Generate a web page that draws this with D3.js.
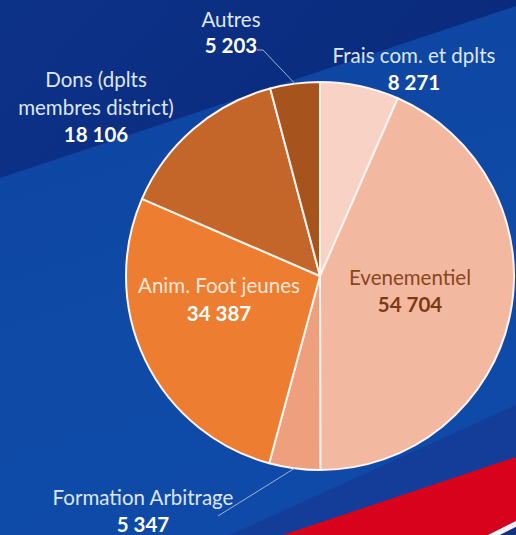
<!DOCTYPE html>
<html><head><meta charset="utf-8">
<script src="https://cdn.jsdelivr.net/npm/d3@7"></script>
<style>html,body{margin:0;padding:0;background:#0e47a1;}svg{display:block;}</style>
</head><body>
<svg id="c" width="516" height="535"></svg>
<script>
const categories = ["Frais com. et dplts", "Evenementiel", "Formation Arbitrage", "Anim. Foot jeunes", "Dons (dplts membres district)", "Autres"];
const values = [8271, 54704, 5347, 34387, 18106, 5203];
const valueLabels = ["8 271", "54 704", "5 347", "34 387", "18 106", "5 203"];
const colors = ["#f7d2c5", "#f3b9a0", "#ee9f7d", "#ed7d31", "#c4662a", "#a6531e"];

const W = 516, H = 535;
const svg = d3.select("#c");
const defs = svg.append("defs");
const g1 = defs.append("linearGradient").attr("id","bg").attr("x1","0").attr("y1","0").attr("x2","0.3").attr("y2","1");
g1.append("stop").attr("offset","0").attr("stop-color","#0f42a0");
g1.append("stop").attr("offset","0.6").attr("stop-color","#0e4aa6");
g1.append("stop").attr("offset","1").attr("stop-color","#0f4aa8");
svg.append("rect").attr("width",W).attr("height",H).attr("fill","url(#bg)");
const g2 = defs.append("linearGradient").attr("id","top").attr("x1","0").attr("y1","0").attr("x2","1").attr("y2","0.3");
g2.append("stop").attr("offset","0").attr("stop-color","#0c3288");
g2.append("stop").attr("offset","1").attr("stop-color","#0a2a7c");
svg.append("path").attr("d","M0,0 L516,0 L516,6 L0,178 Z").attr("fill","url(#top)");
// lower right bands
svg.append("path").attr("d","M230,535 L516,405 L516,457 L283,535 Z").attr("fill","#17348f").attr("opacity",0.6);
svg.append("path").attr("d","M283,535 L516,457 L516,521 L488,535 Z").attr("fill","#d9021d");
svg.append("path").attr("d","M488,535 L516,521 L516,527 L500,535 Z").attr("fill","#f4f4f8");
svg.append("path").attr("d","M500,535 L516,527 L516,535 Z").attr("fill","#14307f");

const cx = 320, cy = 276, R = 194;
const pie = d3.pie().sort(null).value(d => d)(values);
const arc = d3.arc().innerRadius(0).outerRadius(R);
const gp = svg.append("g").attr("transform", `translate(${cx},${cy})`);
gp.selectAll("path").data(pie).join("path")
  .attr("d", arc).attr("fill", (d,i) => colors[i])
  .attr("stroke", "#fbf3ee").attr("stroke-width", 2).attr("stroke-linejoin","round");

const font = "Lato, 'Open Sans', sans-serif";
const fs = 20.5;
// label layout (positions in px, not data)
const layout = [
  {x:414, lines:[[63,"Frais com. et dplts",false],[90,null,true]], col:"#dde6f5", vcol:"#ffffff"},
  {x:410, lines:[[285,"Evenementiel",false],[312,null,true]], col:"#8a4522", vcol:"#7a3a17"},
  {x:143, lines:[[505,"Formation Arbitrage",false],[532,null,true]], col:"#dde6f5", vcol:"#ffffff"},
  {x:219, lines:[[293,"Anim. Foot jeunes",false],[321,null,true]], col:"#fbe6d8", vcol:"#ffffff"},
  {x:96, lines:[[87,"Dons (dplts",false],[115,"membres district)",false],[142,null,true]], col:"#dde6f5", vcol:"#ffffff"},
  {x:231, lines:[[27,"Autres",false],[53,null,true]], col:"#dde6f5", vcol:"#ffffff"}
];
layout.forEach((L, i) => {
  L.lines.forEach(([y, t, bold]) => {
    svg.append("text").attr("x", L.x).attr("y", y).attr("text-anchor","middle")
      .attr("font-family", font).attr("font-size", fs)
      .attr("font-weight", bold ? 700 : 400)
      .attr("fill", bold ? L.vcol : L.col)
      .text(t === null ? valueLabels[i] : t);
  });
});
// leader lines
const outer = d3.arc().innerRadius(R).outerRadius(R);
function edge(i){ const c = outer.centroid(pie[i]); return [cx + c[0], cy + c[1]]; }
const e5 = edge(5), e2 = edge(2);
svg.append("path").attr("d", d3.line()([[257,50],[263,50],e5])).attr("fill","none").attr("stroke","#9fb2d6").attr("stroke-width",1);
svg.append("path").attr("d", d3.line()([[218,516],e2])).attr("fill","none").attr("stroke","#9fb2d6").attr("stroke-width",1);
</script>
</body></html>
